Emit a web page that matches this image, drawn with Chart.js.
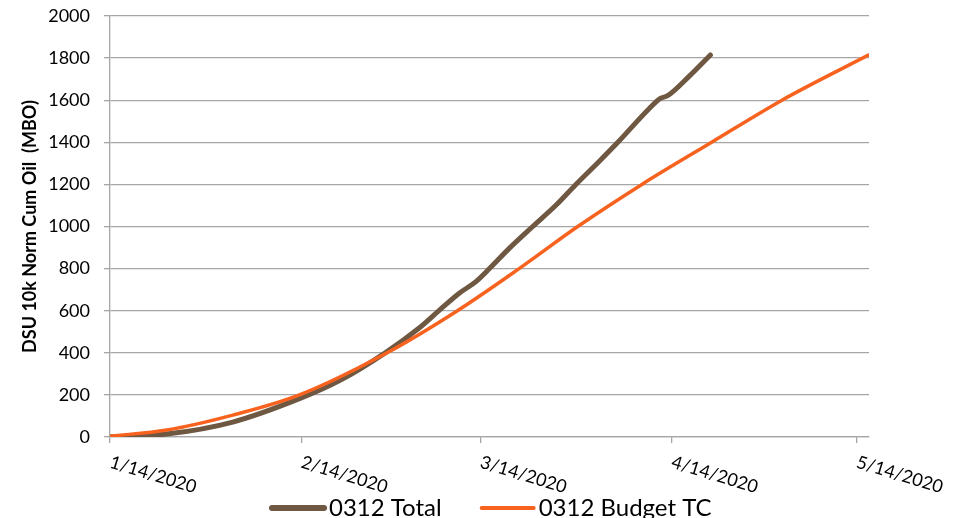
<!DOCTYPE html>
<html>
<head>
<meta charset="utf-8">
<title>DSU 10k Norm Cum Oil</title>
<script src="https://cdn.jsdelivr.net/npm/chart.js@4.4.1/dist/chart.umd.min.js"></script>
<style>
    html, body { margin: 0; padding: 0; background: #fff; overflow: hidden; }
    canvas { display: block; }
</style>
</head>
<body>
<canvas id="cumChart" width="955" height="518"></canvas>
<script>
// Days counted from 1/14/2020
const tickDays = [0, 31, 60, 91, 121];
const tickLabels = ['1/14/2020', '2/14/2020', '3/14/2020', '4/14/2020', '5/14/2020'];

// 0312 Total (actuals)
const totalDays = [0, 9.2, 19.9, 30.7, 37.2, 44.6, 50.1, 53.4, 56.6, 59.3, 61.5, 64.7, 68.5, 72.3, 75.5, 79.3, 82.3, 87.4, 89.2, 90.3, 93.8, 97.3];
const totalValues = [0, 14, 71, 182, 268, 400, 518, 603, 683, 738, 800, 896, 1000, 1102, 1200, 1310, 1400, 1561, 1609, 1620, 1712, 1815];

// 0312 Budget TC (type curve)
const budgetDays = [0, 9.2, 19.9, 30.7, 44.9, 56.3, 66.3, 75.8, 86.2, 97.5, 108.9, 122.9];
const budgetValues = [4, 33, 104, 200, 400, 600, 800, 1000, 1200, 1400, 1600, 1814];

const seriesNames = ['0312 Total', '0312 Budget TC'];
const seriesColors = ['#6E5842', '#F8621F'];

const FONT = 'Lato, "Open Sans", sans-serif';
const GRID = '#a6a6a6';

function toPoints(days, values) {
    return days.map((d, i) => ({ x: d, y: values[i] }));
}

// Slanted date labels under the x axis and the legend row
const extrasPlugin = {
    id: 'extras',
    afterDraw(chart) {
        const ctx = chart.ctx;
        const xScale = chart.scales.x;
        const base = xScale.top;

        ctx.save();
        ctx.fillStyle = '#000';
        ctx.font = '18px ' + FONT;
        ctx.textAlign = 'left';
        ctx.textBaseline = 'top';
        tickDays.forEach((d, i) => {
            const px = xScale.getPixelForValue(d);
            ctx.save();
            ctx.translate(px + 3, base + 16);
            ctx.rotate(17 * Math.PI / 180);
            ctx.fillText(tickLabels[i], 0, 0);
            ctx.restore();
        });

        // legend
        const widths = [6, 4];
        const lineLen = 52;
        const gap = 40;
        const y = 508;
        ctx.font = '24px ' + FONT;
        ctx.textBaseline = 'middle';
        ctx.lineCap = 'round';
        let x = 272;
        seriesNames.forEach((name, i) => {
            ctx.strokeStyle = seriesColors[i];
            ctx.lineWidth = widths[i];
            ctx.beginPath();
            ctx.moveTo(x, y);
            ctx.lineTo(x + lineLen, y);
            ctx.stroke();
            x += lineLen + 5;
            ctx.fillText(name, x, y);
            x += ctx.measureText(name).width + gap;
        });
        ctx.restore();
    }
};

const ctx = document.getElementById('cumChart').getContext('2d');
const cumChart = new Chart(ctx, {
    type: 'line',
    data: {
        datasets: [
            {
                label: seriesNames[0],
                data: toPoints(totalDays, totalValues),
                borderColor: seriesColors[0],
                borderWidth: 5,
                borderCapStyle: 'round',
                borderJoinStyle: 'round',
                cubicInterpolationMode: 'monotone',
                pointRadius: 0,
                fill: false,
                order: 1
            },
            {
                label: seriesNames[1],
                data: toPoints(budgetDays, budgetValues),
                borderColor: seriesColors[1],
                borderWidth: 3.5,
                borderCapStyle: 'round',
                cubicInterpolationMode: 'monotone',
                pointRadius: 0,
                fill: false,
                order: 0
            }
        ]
    },
    options: {
        responsive: false,
        animation: false,
        layout: { padding: { top: 16, right: 86, left: 0, bottom: 0 } },
        plugins: {
            legend: { display: false },
            tooltip: { enabled: false }
        },
        scales: {
            x: {
                type: 'linear',
                min: 0,
                max: 123,
                afterBuildTicks: scale => {
                    scale.ticks = tickDays.map(v => ({ value: v }));
                },
                afterFit: scale => {
                    scale.height = 81;
                    scale.paddingLeft = 0;
                    scale.paddingRight = 0;
                },
                ticks: { display: false },
                grid: { drawOnChartArea: false, color: GRID, lineWidth: 1.3, tickLength: 6 },
                border: { color: GRID, width: 1.3 }
            },
            y: {
                min: 0,
                max: 2000,
                afterFit: scale => {
                    scale.width = 110;
                    scale.paddingTop = 0;
                    scale.paddingBottom = 0;
                },
                ticks: {
                    stepSize: 200,
                    color: '#000',
                    padding: 14,
                    font: { family: FONT, size: 18 },
                    callback: v => String(v)
                },
                grid: { color: GRID, lineWidth: 1.3, tickLength: 6 },
                border: { color: GRID, width: 1.3 },
                title: {
                    display: true,
                    text: 'DSU 10k Norm Cum Oil  (MBO)',
                    color: '#000',
                    font: { family: FONT, size: 18, weight: 'bold' },
                    padding: { top: 19, bottom: 0 }
                }
            }
        }
    },
    plugins: [extrasPlugin]
});
</script>
</body>
</html>
